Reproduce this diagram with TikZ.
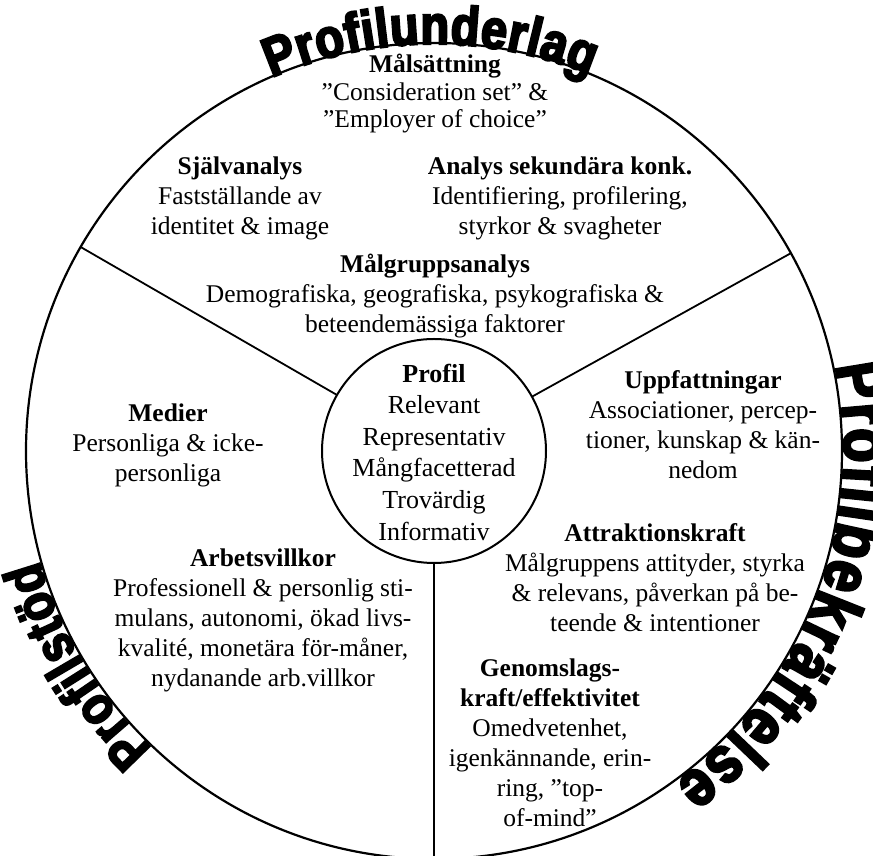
\documentclass[tikz,border=0pt]{standalone}
\usepackage{fontspec}
\setmainfont{Liberation Serif}
\newfontface\waface{Liberation Sans Bold}[FakeBold=4,FakeStretch=0.85]
\usetikzlibrary{decorations.text}
\newcommand\wafontA{\waface\fontsize{55}{55}\selectfont}
\newcommand\wafontB{\waface\fontsize{66}{66}\selectfont}
\newcommand\wafontC{\waface\fontsize{54}{54}\selectfont}
\begin{document}
\begin{tikzpicture}[x=1pt,y=1pt,
  txt/.style={align=center,inner sep=0pt,font=\fontsize{25.5}{30}\selectfont},
  ring/.style={circle,draw,inner sep=0pt,outer sep=0pt},
  divider/.style={line width=1.8pt}]
\useasboundingbox (0,0) rectangle (873,856);
\fill[white] (0,0) rectangle (873,856);
\clip (0,0) rectangle (873,856);
% circles
\node[ring,line width=2.2pt,minimum size=816pt] (outer) at (434,405) {};
\node[ring,line width=2pt,minimum size=224pt] (profil) at (434,405) {};
% dividers
\draw[divider] (profil.150) -- (outer.150);
\draw[divider] (profil.29) -- (outer.29);
\draw[divider] (profil.270) -- (outer.270);
% arc titles
\path[decorate,decoration={text along path,text align={fit to path},
  text={|\wafontA|Profilunderlag}}]
  (outer.center) ++(113.5:407) arc[start angle=113.5,end angle=67.5,radius=407];
\path[decorate,decoration={text along path,text align={fit to path},
  text={|\wafontB|Profilbekräftelse}}]
  (outer.center) ++(12:410) arc[start angle=12,end angle=-54,radius=410];
\path[decorate,decoration={text along path,text align={fit to path},
  text={|\wafontC|Profilstöd}}]
  (outer.center) ++(226.5:410) arc[start angle=226.5,end angle=195.5,radius=410];
% texts
\node[txt,font=\fontsize{25.5}{27.5}\selectfont] (mal) at (435,762) {\textbf{Målsättning}\\”Consideration set” \&\\”Employer of choice”};
\node[txt] (sjalv) at (240,658) {\textbf{Självanalys}\\Fastställande av\\identitet \& image};
\node[txt] (analys) at (560,658) {\textbf{Analys sekundära konk.}\\Identifiering, profilering,\\styrkor \& svagheter};
\node[txt] (malgrupp) at (435,560) {\textbf{Målgruppsanalys}\\Demografiska, geografiska, psykografiska \&\\beteendemässiga faktorer};
\node[txt,font=\fontsize{26}{31.6}\selectfont] (profiltext) at (434,404) {\textbf{Profil}\\Relevant\\Representativ\\Mångfacetterad\\Trovärdig\\Informativ};
\node[txt] (uppf) at (703,431) {\textbf{Uppfattningar}\\Associationer, percep-\\tioner, kunskap \& kän-\\nedom};
\node[txt] (medier) at (168,411) {\textbf{Medier}\\Personliga \& icke-\\personliga};
\node[txt] (attr) at (655,278) {\textbf{Attraktionskraft}\\Målgruppens attityder, styrka\\\& relevans, påverkan på be-\\teende \& intentioner};
\node[txt] (arb) at (263,236) {\textbf{Arbetsvillkor}\\Professionell \& personlig sti-\\mulans, autonomi, ökad livs-\\kvalité, monetära för-måner,\\nydanande arb.villkor};
\node[txt] (genom) at (550,113) {\textbf{Genomslags-}\\\textbf{kraft/effektivitet}\\Omedvetenhet,\\igenkännande, erin-\\ring, ”top-\\of-mind”};
\end{tikzpicture}
\end{document}
